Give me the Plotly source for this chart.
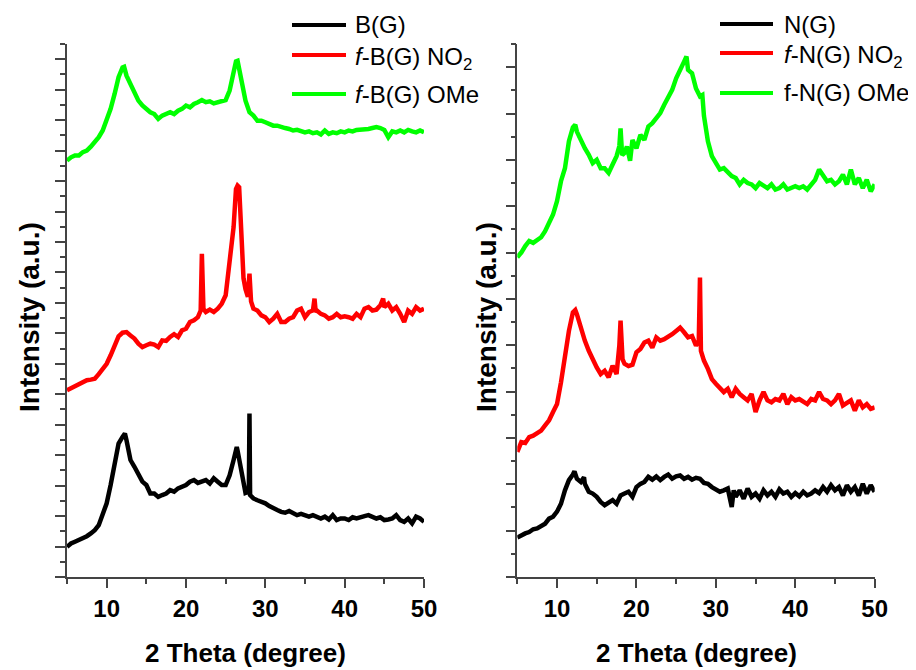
import plotly.graph_objects as go

# ---------------- data (2 theta in degree, intensity in a.u.) ----------------
two_theta = [
    5.0, 5.5, 6.0, 6.5, 7.0, 7.5, 8.0, 8.5, 9.0, 9.5,
    10.0, 10.5, 11.0, 11.5, 12.0, 12.5, 13.0, 13.5, 14.0, 14.5,
    15.0, 15.5, 16.0, 16.5, 17.0, 17.5, 18.0, 18.5, 19.0, 19.5,
    20.0, 20.5, 21.0, 21.5, 22.0, 22.5, 23.0, 23.5, 24.0, 24.5,
    25.0, 25.5, 26.0, 26.5, 27.0, 27.5, 28.0, 28.5, 29.0, 29.5,
    30.0, 30.5, 31.0, 31.5, 32.0, 32.5, 33.0, 33.5, 34.0, 34.5,
    35.0, 35.5, 36.0, 36.5, 37.0, 37.5, 38.0, 38.5, 39.0, 39.5,
    40.0, 40.5, 41.0, 41.5, 42.0, 42.5, 43.0, 43.5, 44.0, 44.5,
    45.0, 45.5, 46.0, 46.5, 47.0, 47.5, 48.0, 48.5, 49.0, 49.5,
    50.0,
]

# ---- left panel: B(G) series ----
bg = [
    0.99, 1.10, 1.16, 1.21, 1.27, 1.34, 1.43, 1.54, 1.70, 2.03,
    2.42, 3.02, 3.67, 4.38, 4.60, 4.49, 3.84, 3.62, 3.34, 3.13,
    3.02, 2.74, 2.74, 2.63, 2.69, 2.74, 2.85, 2.80, 2.91, 2.96,
    3.02, 3.13, 3.18, 3.09, 3.13, 3.18, 3.07, 3.24, 3.13, 3.02,
    3.02, 3.34, 3.84, 4.15, 3.45, 2.76, 5.37, 2.58, 2.52, 2.47,
    2.42, 2.33, 2.25, 2.20, 2.14, 2.11, 2.17, 2.09, 2.03, 2.07,
    2.03, 1.98, 2.03, 1.96, 1.92, 1.98, 1.89, 2.03, 1.87, 1.92,
    1.92, 1.87, 1.96, 1.92, 1.98, 2.00, 2.03, 1.98, 1.92, 1.96,
    1.87, 1.89, 1.92, 2.03, 1.87, 1.81, 1.92, 1.76, 1.98, 1.92,
    1.81,
]
bg_peak_x = [12.3, 26.4, 27.92, 28.08]
bg_peak_y = [4.71, 4.27, 2.80, 2.69]

fbg_no2 = [
    6.13, 6.19, 6.26, 6.35, 6.40, 6.46, 6.48, 6.51, 6.66, 6.81,
    7.00, 7.28, 7.61, 7.90, 8.02, 8.04, 7.93, 7.83, 7.66, 7.55,
    7.61, 7.66, 7.63, 7.55, 7.77, 7.75, 7.88, 7.97, 7.88, 8.10,
    8.15, 8.37, 8.43, 8.53, 10.61, 8.70, 8.78, 8.70, 8.81, 8.97,
    9.25, 10.28, 11.49, 12.85, 11.38, 9.45, 9.96, 8.81, 8.75, 8.59,
    8.53, 8.37, 8.48, 8.64, 8.37, 8.37, 8.48, 8.53, 8.75, 8.81,
    8.53, 8.70, 8.75, 8.75, 8.64, 8.59, 8.48, 8.53, 8.64, 8.53,
    8.56, 8.53, 8.48, 8.64, 8.53, 8.81, 8.86, 8.75, 8.78, 8.92,
    8.86, 8.97, 8.75, 8.86, 8.64, 8.37, 8.75, 8.64, 8.86, 8.75,
    8.81,
]
fbg_no2_peak_x = [21.85, 22.2, 26.3, 26.7, 27.25, 27.8, 28.2, 36.2, 36.35, 44.85]
fbg_no2_peak_y = [8.75, 8.80, 12.74, 12.80, 9.80, 9.20, 9.05, 9.14, 8.70, 9.14]

fbg_ome = [
    13.67, 13.78, 13.84, 13.84, 13.95, 14.00, 14.13, 14.27, 14.44, 14.66,
    14.98, 15.37, 15.86, 16.41, 16.73, 16.46, 16.19, 15.91, 15.64, 15.48,
    15.37, 15.26, 15.20, 15.04, 15.15, 15.20, 15.26, 15.20, 15.31, 15.37,
    15.48, 15.42, 15.53, 15.59, 15.66, 15.59, 15.62, 15.55, 15.59, 15.64,
    15.66, 15.97, 16.57, 16.95, 16.19, 15.64, 15.26, 15.15, 14.98, 14.98,
    14.93, 14.87, 14.82, 14.82, 14.77, 14.74, 14.71, 14.66, 14.68, 14.63,
    14.60, 14.63, 14.57, 14.60, 14.53, 14.66, 14.55, 14.60, 14.57, 14.63,
    14.60, 14.66, 14.63, 14.68, 14.68, 14.71, 14.71, 14.74, 14.77, 14.74,
    14.68, 14.44, 14.63, 14.60, 14.66, 14.60, 14.68, 14.63, 14.60, 14.66,
    14.60,
]
fbg_ome_peak_x = [12.2, 26.3, 26.7]
fbg_ome_peak_y = [16.75, 16.93, 16.70]

# ---- right panel: N(G) series ----
ng = [
    0.85, 0.90, 0.94, 0.97, 1.03, 1.05, 1.10, 1.15, 1.26, 1.30,
    1.41, 1.58, 1.87, 2.09, 2.21, 2.12, 2.05, 2.01, 1.84, 1.80,
    1.73, 1.62, 1.55, 1.60, 1.66, 1.58, 1.76, 1.80, 1.84, 1.73,
    1.94, 2.01, 2.05, 2.16, 2.10, 2.17, 2.09, 2.16, 2.21, 2.12,
    2.17, 2.19, 2.12, 2.16, 2.10, 2.14, 2.12, 2.03, 2.01, 1.94,
    1.89, 1.84, 1.87, 1.91, 1.51, 1.73, 1.87, 1.69, 1.91, 1.73,
    1.80, 1.69, 1.87, 1.76, 1.84, 1.73, 1.89, 1.80, 1.84, 1.73,
    1.81, 1.74, 1.84, 1.76, 1.80, 1.87, 1.81, 1.94, 1.84, 1.98,
    1.87, 1.94, 1.76, 1.98, 1.84, 1.94, 1.76, 2.01, 1.80, 1.98,
    1.84,
]
ng_peak_x = [12.2, 13.4, 32.25]
ng_peak_y = [2.28, 2.15, 1.87]

fng_no2 = [
    2.70, 2.91, 2.89, 3.02, 3.05, 3.10, 3.16, 3.27, 3.38, 3.56,
    3.73, 4.20, 4.81, 5.31, 5.71, 5.67, 5.35, 5.10, 4.88, 4.67,
    4.52, 4.38, 4.45, 4.31, 4.56, 4.38, 5.53, 4.60, 4.55, 4.58,
    4.85, 4.92, 5.06, 5.10, 4.95, 5.17, 5.10, 5.13, 5.18, 5.24,
    5.31, 5.38, 5.28, 5.17, 5.20, 4.99, 6.46, 4.67, 4.49, 4.27,
    4.17, 4.09, 3.99, 4.06, 3.88, 4.06, 3.95, 3.88, 3.81, 3.95,
    3.56, 3.81, 3.99, 3.81, 3.77, 3.84, 3.81, 3.95, 3.73, 3.88,
    3.81, 3.84, 3.77, 3.73, 3.84, 3.81, 3.99, 3.84, 3.81, 3.73,
    3.81, 3.95, 3.70, 3.77, 3.81, 3.59, 3.81, 3.66, 3.73, 3.63,
    3.66,
]
fng_no2_peak_x = [12.3, 17.85, 18.25, 27.85, 28.12]
fng_no2_peak_y = [5.76, 5.00, 4.70, 5.10, 4.88]

fng_ome = [
    6.90, 7.00, 7.14, 7.25, 7.21, 7.28, 7.33, 7.46, 7.62, 7.82,
    8.11, 8.54, 8.82, 9.40, 9.70, 9.61, 9.40, 9.25, 9.11, 8.93,
    9.00, 8.82, 8.82, 8.72, 8.90, 9.08, 9.68, 9.15, 9.05, 9.43,
    9.25, 9.54, 9.43, 9.72, 9.79, 9.90, 10.01, 10.19, 10.37, 10.51,
    10.76, 10.97, 11.12, 10.94, 10.87, 10.54, 10.37, 9.95, 9.40, 9.08,
    8.93, 8.79, 8.82, 8.72, 8.65, 8.61, 8.47, 8.57, 8.50, 8.47,
    8.39, 8.50, 8.43, 8.39, 8.47, 8.36, 8.39, 8.47, 8.36, 8.39,
    8.43, 8.39, 8.43, 8.36, 8.47, 8.57, 8.79, 8.68, 8.54, 8.57,
    8.47, 8.54, 8.68, 8.47, 8.79, 8.47, 8.61, 8.39, 8.57, 8.32,
    8.47,
]
fng_ome_peak_x = [12.3, 17.85, 18.2, 18.8, 19.2, 26.3, 28.3]
fng_ome_peak_y = [9.76, 9.30, 9.10, 9.29, 8.98, 11.23, 10.40]

names_left = ["B(G)", "<i>f</i>-B(G) NO<sub>2</sub>", "<i>f</i>-B(G) OMe"]
names_right = ["N(G)", "<i>f</i>-N(G) NO<sub>2</sub>", "f-N(G) OMe"]
colors = ["#000000", "#FF0000", "#00FF00"]


def merged(base_y, extra_x, extra_y):
    pts = dict(zip(two_theta, base_y))
    pts.update(zip(extra_x, extra_y))
    xs = sorted(pts)
    return xs, [pts[x] for x in xs]


left_series = [
    merged(bg, bg_peak_x, bg_peak_y),
    merged(fbg_no2, fbg_no2_peak_x, fbg_no2_peak_y),
    merged(fbg_ome, fbg_ome_peak_x, fbg_ome_peak_y),
]
right_series = [
    merged(ng, ng_peak_x, ng_peak_y),
    merged(fng_no2, fng_no2_peak_x, fng_no2_peak_y),
    merged(fng_ome, fng_ome_peak_x, fng_ome_peak_y),
]

fig = go.Figure()
for (xs, ys), name, col in zip(left_series, names_left, colors):
    fig.add_trace(go.Scatter(x=xs, y=ys, mode="lines", name=name,
                             line=dict(color=col, width=4.5),
                             xaxis="x", yaxis="y", showlegend=False))
for (xs, ys), name, col in zip(right_series, names_right, colors):
    fig.add_trace(go.Scatter(x=xs, y=ys, mode="lines", name=name,
                             line=dict(color=col, width=4.5),
                             xaxis="x2", yaxis="y2", showlegend=False))

# the page body adds an 8 px margin, so the figure starts 8 px into the window
W, H = 908, 662
y_dom = [1 - 569 / H, 1 - 36 / H]
axis_col = "#444444"
xcommon = dict(range=[5, 50], tick0=0, dtick=10, ticks="outside", ticklen=9,
               tickwidth=1.5, tickcolor=axis_col, showline=True, linewidth=1.5,
               linecolor=axis_col, showgrid=False, zeroline=False, automargin=False,
               tickfont=dict(family="Arial", size=24, color="black", weight="bold"),
               minor=dict(dtick=5, tick0=0, ticks="outside", ticklen=5,
                          tickwidth=1.5, tickcolor=axis_col))
ycommon = dict(tick0=0, dtick=1, ticks="outside", ticklen=10, tickwidth=1.5,
               tickcolor=axis_col, showline=True, linewidth=1.5, linecolor=axis_col,
               showgrid=False, zeroline=False, showticklabels=False, automargin=False,
               minor=dict(dtick=0.5, tick0=0, ticks="outside", ticklen=5,
                          tickwidth=1.5, tickcolor=axis_col))

fig.update_layout(
    width=W, height=H,
    margin=dict(l=0, r=0, t=0, b=0, autoexpand=False),
    paper_bgcolor="white", plot_bgcolor="white",
    xaxis=dict(domain=[59 / W, 416 / W], anchor="y", **xcommon),
    xaxis2=dict(domain=[509.3 / W, 866.7 / W], anchor="y2", **xcommon),
    yaxis=dict(domain=y_dom, anchor="x", range=[0, 17.5], **ycommon),
    yaxis2=dict(domain=y_dom, anchor="x2", range=[0, 11.5], **ycommon),
    showlegend=False,
)

# ---- legend keys (line sample + label), one block per panel ----
legend_font = dict(family="Arial", size=24, color="black")
legend_blocks = [
    (names_left, 284, 338, 345, [17, 47, 86]),
    (names_right, 712, 765, 774, [16, 45, 85]),
]
for names, lx0, lx1, tx, rows in legend_blocks:
    for name, col, row in zip(names, colors, rows):
        fig.add_shape(type="line", xref="paper", yref="paper",
                      x0=lx0 / W, x1=lx1 / W, y0=1 - row / H, y1=1 - row / H,
                      line=dict(color=col, width=4))
        shift = 3 if "<sub>" in name else 0
        fig.add_annotation(text=name, x=tx / W, y=1 - (row + shift) / H,
                           xref="paper", yref="paper", showarrow=False,
                           xanchor="left", yanchor="middle", font=legend_font)

title_font = dict(family="Arial", size=26, color="black", weight="bold")
ytitle_font = dict(family="Arial", size=28, color="black", weight="bold")
for cx in [237.5 / W, 688 / W]:
    fig.add_annotation(text="2 Theta (degree)", x=cx, y=1 - 645 / H,
                       xref="paper", yref="paper", showarrow=False,
                       xanchor="center", yanchor="middle", font=title_font)
for cx in [22 / W, 479 / W]:
    fig.add_annotation(text="Intensity (a.u.)", x=cx, y=1 - 309 / H,
                       xref="paper", yref="paper", showarrow=False, textangle=-90,
                       xanchor="center", yanchor="middle", font=ytitle_font)

fig.write_html("out.html")
